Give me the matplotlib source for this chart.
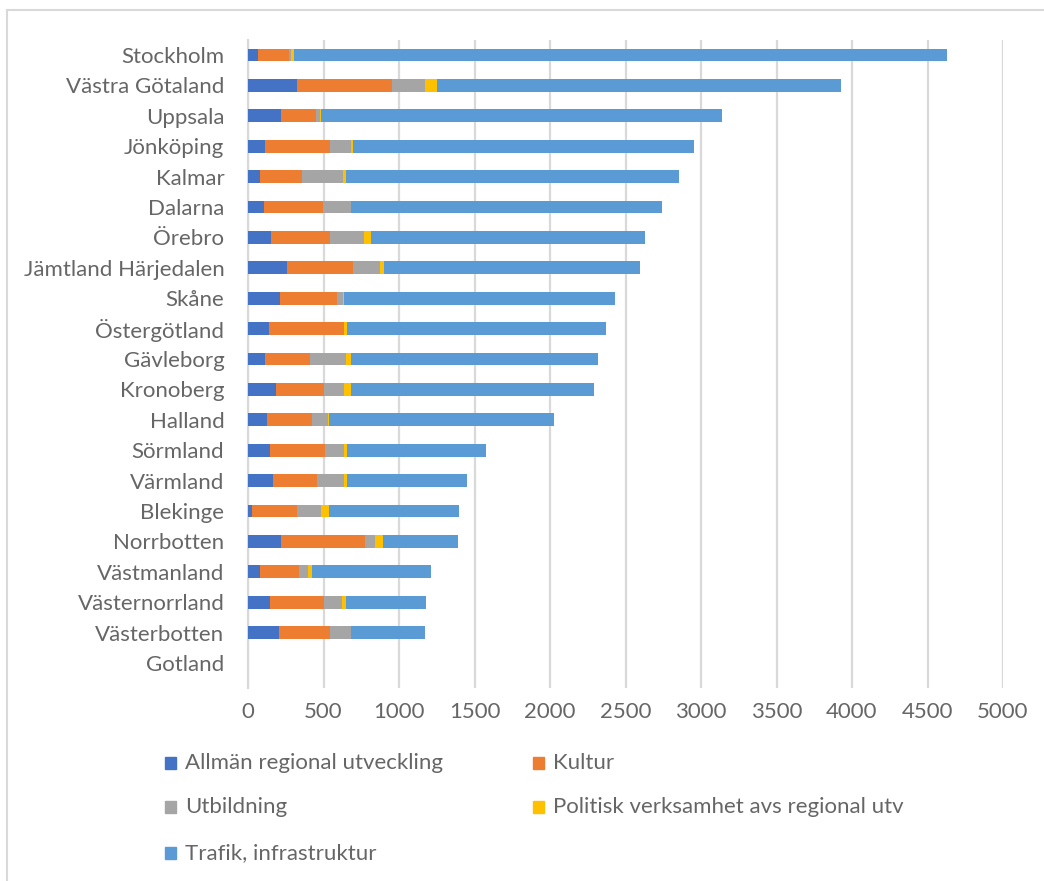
import matplotlib
matplotlib.use("Agg")
import matplotlib.pyplot as plt
from matplotlib.patches import Rectangle
from matplotlib.lines import Line2D
import numpy as np

regions = ["Stockholm", "Västra Götaland", "Uppsala", "Jönköping", "Kalmar", "Dalarna",
           "Örebro", "Jämtland Härjedalen", "Skåne", "Östergötland", "Gävleborg",
           "Kronoberg", "Halland", "Sörmland", "Värmland", "Blekinge", "Norrbotten",
           "Västmanland", "Västernorrland", "Västerbotten", "Gotland"]

allman = [68, 325, 221, 113, 79, 104, 155, 256, 214, 139, 113, 188, 128, 146, 163, 26, 221, 77, 146, 205, 0]
kultur = [206, 629, 231, 432, 279, 391, 390, 442, 373, 499, 296, 313, 296, 366, 296, 299, 554, 263, 355, 338, 0]
utbildning = [9, 220, 23, 135, 271, 185, 221, 176, 44, 0, 238, 137, 104, 126, 179, 161, 66, 60, 122, 137, 0]
politisk = [22, 76, 8, 18, 18, 3, 51, 27, 7, 16, 33, 42, 8, 16, 16, 50, 51, 24, 24, 0, 0]
trafik = [4327, 2680, 2657, 2256, 2206, 2062, 1815, 1697, 1790, 1715, 1636, 1612, 1493, 924, 799, 864, 501, 790, 532, 490, 0]

series_names = ["Allmän regional utveckling", "Kultur", "Utbildning",
                "Politisk verksamhet avs regional utv", "Trafik, infrastruktur"]
series_values = [allman, kultur, utbildning, politisk, trafik]
colors = ["#4472C4", "#ED7D31", "#A5A5A5", "#FFC000", "#5B9BD5"]
xticks = [0, 500, 1000, 1500, 2000, 2500, 3000, 3500, 4000, 4500, 5000]

plt.rcParams['font.family'] = ['Lato', 'DejaVu Sans']
W, H = 1044, 881
FS = 16
TXT = "#666666"
fig = plt.figure(figsize=(W / 100, H / 100), dpi=100)
fig.patch.set_facecolor("white")

ax = fig.add_axes([248 / W, 1 - 688 / H, (1003 - 248) / W, (688 - 40) / H])
y = np.arange(len(regions))
left = np.zeros(len(regions))
for name, vals, c in zip(series_names, series_values, colors):
    v = np.array(vals, dtype=float)
    ax.barh(y, v, left=left, height=0.42, color=c, label=name, zorder=3)
    left += v

ax.set_xlim(0, 5000)
ax.set_ylim(20.82, -0.49)
ax.set_yticks(y)
ax.set_yticklabels(regions, fontsize=FS, color=TXT)
ax.set_xticks(xticks)
ax.set_xticklabels([str(t) for t in xticks], fontsize=FS, color=TXT)
ax.tick_params(axis="y", length=0, pad=17)
ax.tick_params(axis="x", length=0, pad=10)
ax.grid(axis="x", color="#D9D9D9", linewidth=1.6, zorder=0)
for s in ["top", "right", "bottom"]:
    ax.spines[s].set_visible(False)
ax.spines["left"].set_color("#D9D9D9")
ax.spines["left"].set_linewidth(1.6)

# legend (Excel-style, row-major, two columns)
leg_pos = [(165, 763), (533, 763), (165, 807), (533, 807), (165, 853)]
for (px, py), name, c in zip(leg_pos, series_names, colors):
    fig.patches.append(Rectangle((px / W, 1 - (py + 6) / H), 11 / W, 12 / H,
                                 transform=fig.transFigure, color=c))
    fig.text((px + 20) / W, 1 - py / H, name, fontsize=FS, color=TXT,
             va="center", ha="left")

# chart area border
fig.add_artist(Line2D([7 / W, 7 / W], [0, 1 - 10 / H], transform=fig.transFigure,
                      color="#D9D9D9", linewidth=1.5))
fig.add_artist(Line2D([7 / W, 1], [1 - 10 / H, 1 - 10 / H], transform=fig.transFigure,
                      color="#D9D9D9", linewidth=1.5))

fig.savefig("out.png", dpi=100, facecolor="white")
